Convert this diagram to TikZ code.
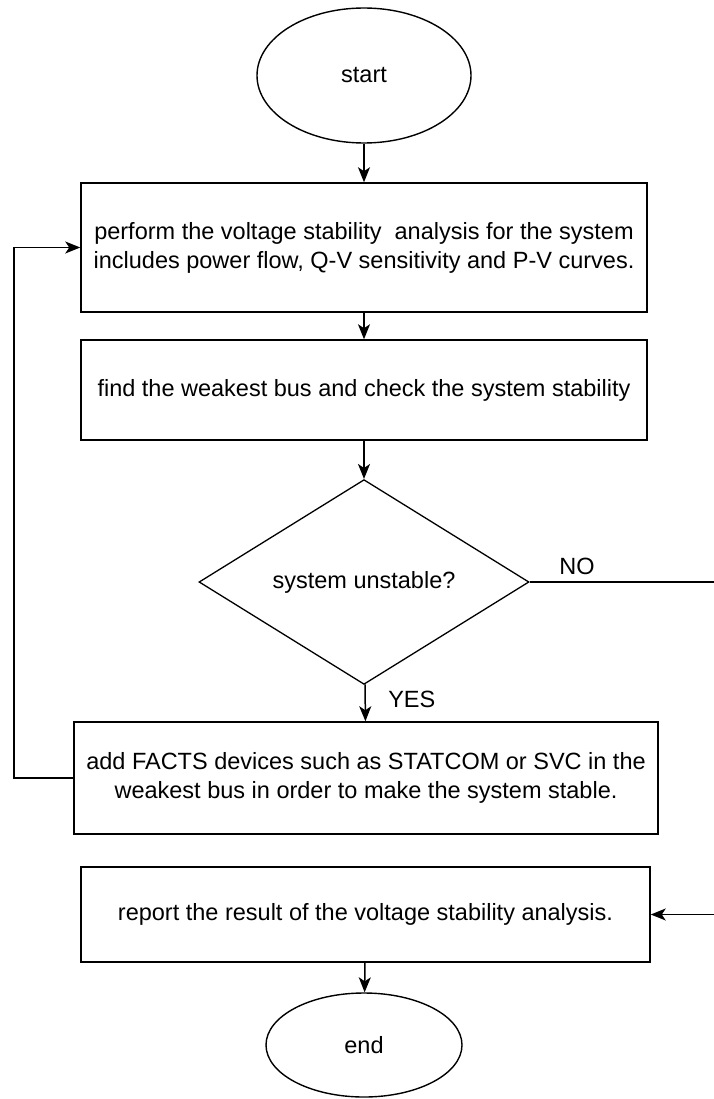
\documentclass[tikz,border=0pt]{standalone}
\usepackage{fontspec}
\setmainfont{Liberation Sans}
\usetikzlibrary{arrows.meta,positioning,shapes.geometric}
\tikzset{
  term/.style={ellipse,draw,line width=1.4pt,inner sep=0pt},
  proc/.style={rectangle,draw,line width=1.5pt,inner sep=0pt,align=center},
  dec/.style={diamond,draw,line width=1.3pt,inner sep=0pt,minimum width=330pt,minimum height=176pt},
  flow/.style={line width=1.5pt,-{Stealth[length=15pt,width=12pt,inset=4pt]}},
  wire/.style={line width=1.5pt},
}

\begin{document}
\begin{tikzpicture}[x=1pt,y=-1pt,font=\fontsize{23.5}{29}\selectfont]
  \useasboundingbox (0,0) rectangle (713,1099);
  \node[term,minimum width=214pt,minimum height=135pt] (start) at (364,75.5) {start};
  \node[proc,minimum width=566pt,minimum height=129pt] (perform) at (364,247.5)
    {perform the voltage stability~ analysis for the system\\ includes power flow, Q-V sensitivity and P-V curves.};
  \node[proc,minimum width=566pt,minimum height=100pt] (weak) at (364,390)
    {find the weakest bus and check the system stability};
  \node[dec] (unstable) at (364,582) {system unstable?};
  \node[proc,minimum width=584pt,minimum height=112pt] (facts) at (366,778)
    {add FACTS devices such as STATCOM or SVC in the\\ weakest bus in order to make the system stable.};
  \node[proc,minimum width=569pt,minimum height=95pt] (report) at (365.5,914.5)
    {report the result of the voltage stability analysis.};
  \node[term,minimum width=196pt,minimum height=104pt] (end) at (364,1045) {end};
  % main flow
  \draw[flow] (start) -- (perform);
  \draw[flow] (perform) -- (weak);
  \draw[flow] (weak) -- (unstable);
  \draw[flow] (unstable) -- (facts) node[pos=0.42,right=19pt] (yes) {YES};
  \draw[flow] (report) -- (end);
  % loop back and exit
  \coordinate (loopc) at (14,0);
  \draw[flow] (facts.west) -- (facts.west -| loopc) |- (perform.west);
  \coordinate (exitc) at (715,0);
  \draw[wire] (unstable.east) -- (unstable.east -| exitc) coordinate (exittop);
  \node (no) at (577,566) {NO};
  \draw[flow] (exittop) |- (report.east);
\end{tikzpicture}
\end{document}
